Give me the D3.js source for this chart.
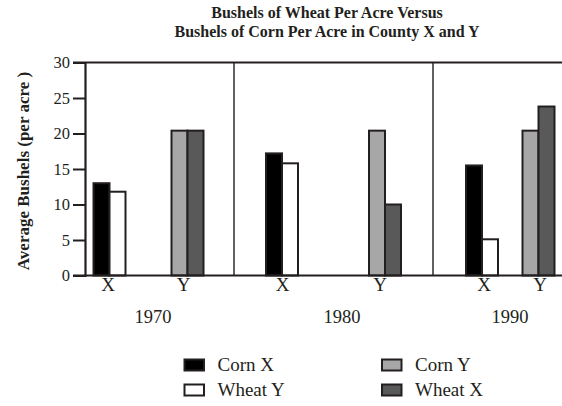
<!DOCTYPE html>
<html>
<head>
<meta charset="utf-8">
<script src="https://cdn.jsdelivr.net/npm/d3@7/dist/d3.min.js"></script>
<style>
  html, body { margin: 0; padding: 0; background: #fff; }
  svg { display: block; font-family: "Liberation Serif", "DejaVu Serif", serif; }
  svg text { font-family: "Liberation Serif", "DejaVu Serif", serif; }
</style>
</head>
<body>
<svg id="chart" width="562" height="406"></svg>
<script>
// Data: average bushels per acre, by decade
const years = ["1970", "1980", "1990"];
const counties = ["X", "Y"];
const cornX  = [13, 17.2, 15.5];
const wheatY = [11.8, 15.8, 5.1];
const cornY  = [20.4, 20.4, 20.4];
const wheatX = [20.4, 10, 23.8];
const yTicks = [0, 5, 10, 15, 20, 25, 30];

// Which two series stand next to each other over each county label
const clusterSeries = {
  X: [{ name: "Corn X", values: cornX }, { name: "Wheat Y", values: wheatY }],
  Y: [{ name: "Corn Y", values: cornY }, { name: "Wheat X", values: wheatX }]
};
const legendOrder = ["Corn X", "Corn Y", "Wheat Y", "Wheat X"];

const fills = d3.scaleOrdinal()
  .domain(["Corn X", "Wheat Y", "Corn Y", "Wheat X"])
  .range(["#000000", "#ffffff", "#a7a7a7", "#595959"]);
const edge = "#231f20";
const ink = "#231f20";

const svg = d3.select("#chart");
const plot = { left: 85, right: 640, top: 62.5, bottom: 275.5 };

const y = d3.scaleLinear().domain([0, 30]).range([plot.bottom, plot.top]);

// Decade panels: left edge of each panel
const panelStart = d3.scaleOrdinal().domain(years).range([85, 234, 433]);
// Horizontal centre of each county cluster inside its panel
const clusterKeys = ["1970|X", "1970|Y", "1980|X", "1980|Y", "1990|X", "1990|Y"];
const clusterX = d3.scaleOrdinal().domain(clusterKeys)
  .range([109.5, 187.5, 282, 385, 482, 538.5]);
const countyLabelX = d3.scaleOrdinal().domain(clusterKeys)
  .range([108, 183.5, 282.5, 380, 484, 540]);
const yearLabelX = d3.scaleOrdinal().domain(years).range([153, 342, 510]);

// Two bars side by side within a cluster
const inner = d3.scaleBand().domain([0, 1]).range([-16, 16]).padding(0);

// Title
const title = svg.append("g")
  .attr("text-anchor", "middle")
  .attr("font-weight", "bold").attr("font-size", 16)
  .attr("fill", ink);
title.append("text").attr("x", 327).attr("y", 18).text("Bushels of Wheat Per Acre Versus");
title.append("text").attr("x", 327).attr("y", 37).text("Bushels of Corn Per Acre in County X and Y");

// Y axis title
svg.append("text")
  .attr("transform", `translate(29, 171) rotate(-90)`)
  .attr("text-anchor", "middle")
  .attr("font-weight", "bold").attr("font-size", 17)
  .attr("fill", ink)
  .text("Average Bushels (per acre )");

// Bars
const bars = [];
years.forEach((yr, i) => {
  counties.forEach(c => {
    clusterSeries[c].forEach((s, j) => {
      bars.push({ year: yr, county: c, series: s.name, slot: j, value: s.values[i] });
    });
  });
});

svg.append("g").selectAll("rect")
  .data(bars)
  .join("rect")
  .attr("x", d => clusterX(d.year + "|" + d.county) + inner(d.slot))
  .attr("width", inner.bandwidth())
  .attr("y", d => y(d.value))
  .attr("height", d => y(0) - y(d.value))
  .attr("fill", d => fills(d.series))
  .attr("stroke", edge)
  .attr("stroke-width", 2);

// Panel dividers
svg.append("g").selectAll("line")
  .data(years.slice(1))
  .join("line")
  .attr("x1", d => panelStart(d)).attr("x2", d => panelStart(d))
  .attr("y1", plot.top).attr("y2", plot.bottom)
  .attr("stroke", "#3a3a3a").attr("stroke-width", 1.6);

// Frame: top and bottom rules run under the tick marks
svg.append("line")
  .attr("x1", 73).attr("x2", plot.right)
  .attr("y1", plot.top).attr("y2", plot.top)
  .attr("stroke", edge).attr("stroke-width", 2);
svg.append("line")
  .attr("x1", 73).attr("x2", plot.right)
  .attr("y1", plot.bottom).attr("y2", plot.bottom)
  .attr("stroke", edge).attr("stroke-width", 2);

// Left axis with ticks
const yAxis = d3.axisLeft(y).tickValues(yTicks).tickSize(12).tickPadding(3).tickFormat(d3.format("d"));
const gy = svg.append("g").attr("transform", `translate(${plot.left},0)`).call(yAxis);
gy.attr("font-family", null).attr("font-size", null);
gy.select(".domain").attr("stroke", edge).attr("stroke-width", 2.2);
gy.selectAll(".tick line").attr("stroke", edge).attr("stroke-width", 2);
gy.selectAll(".tick text")
  .style("font-family", '"Liberation Serif", serif')
  .style("font-size", "16.5px")
  .attr("fill", ink);

// County labels under each cluster
const clusters = [];
years.forEach(yr => counties.forEach(c => clusters.push({ year: yr, county: c })));
svg.append("g").selectAll("text")
  .data(clusters)
  .join("text")
  .attr("x", d => countyLabelX(d.year + "|" + d.county))
  .attr("y", 291)
  .attr("text-anchor", "middle")
  .attr("font-size", 19).attr("fill", ink)
  .text(d => d.county);

// Decade labels
svg.append("g").selectAll("text")
  .data(years)
  .join("text")
  .attr("x", d => yearLabelX(d))
  .attr("y", 323)
  .attr("text-anchor", "middle")
  .attr("font-size", 18.5).attr("fill", ink)
  .text(d => d);

// Legend: two columns, two rows
const legendCol = d3.scaleOrdinal().domain([0, 1]).range([183.5, 381]);
const legendRow = d3.scaleOrdinal().domain([0, 1]).range([358.5, 383.5]);
const lg = svg.append("g").selectAll("g")
  .data(legendOrder)
  .join("g")
  .attr("transform", (d, i) => `translate(${legendCol(i % 2)},${legendRow(Math.floor(i / 2))})`);
lg.append("rect")
  .attr("x", 1).attr("y", 1)
  .attr("width", 19.5).attr("height", 11)
  .attr("fill", d => fills(d))
  .attr("stroke", edge).attr("stroke-width", 2);
lg.append("text")
  .attr("x", 34).attr("y", 12.5)
  .attr("font-size", 19).attr("fill", ink)
  .text(d => d);
</script>
</body>
</html>
